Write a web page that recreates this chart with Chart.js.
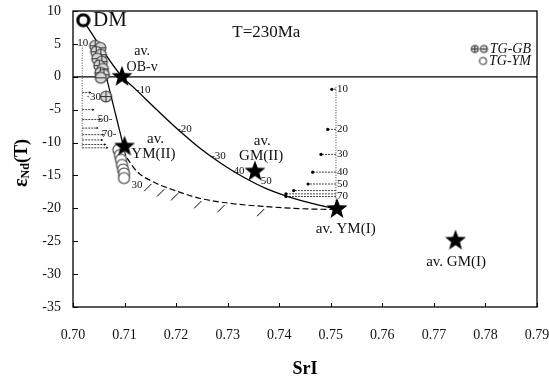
<!DOCTYPE html>
<html>
<head>
<meta charset="utf-8">
<script src="https://cdn.jsdelivr.net/npm/chart.js@4.4.0/dist/chart.umd.min.js"></script>
<style>
  html, body { margin: 0; padding: 0; background: #fff; }
</style>
</head>
<body>
<canvas id="chart" width="549" height="382"></canvas>
<script>
// Axis ticks
const xTicks = [0.70, 0.71, 0.72, 0.73, 0.74, 0.75, 0.76, 0.77, 0.78, 0.79];
const yTicks = [10, 5, 0, -5, -10, -15, -20, -25, -30, -35];

// Depleted mantle
const dmX = [0.7020];
const dmY = [8.6];

// TG-GB samples (crossed / barred circles)
const gbX = [0.7043, 0.7053, 0.7045, 0.7054, 0.7047, 0.7056, 0.7051, 0.7058, 0.7053, 0.7060, 0.7054, 0.7064];
const gbY = [4.7, 4.4, 3.8, 3.35, 2.75, 2.3, 1.7, 1.2, 0.6, 0.3, -0.15, -3.0];

// TG-YM samples (open circles)
const ymX = [0.7088, 0.7091, 0.7093, 0.7095, 0.7097, 0.7099, 0.7099];
const ymY = [-11.1, -11.9, -12.6, -13.4, -14.1, -14.7, -15.4];

// Average end members (stars)
const starNames = ['OB-v', 'YM(II)', 'GM(II)', 'YM(I)', 'GM(I)'];
const starX = [0.7095, 0.7100, 0.7353, 0.7512, 0.7742];
const starY = [0, -10.6, -14.4, -20.1, -24.9];

// Mixing curve DM -> av. YM(I)
const mixX = [0.7019, 0.7095, 0.7120, 0.7161, 0.7202, 0.7247, 0.7286, 0.7325, 0.7375, 0.7441, 0.7490, 0.7513];
const mixY = [8.6, 0, -1.8, -4.9, -7.9, -10.9, -13.1, -15.0, -17.0, -18.8, -19.75, -20.1];

// Mixing line TG-GB -> av. YM(II)
const gbLineX = [0.7054, 0.7098];
const gbLineY = [3.35, -10.6];

// Dashed curve av. YM(II) -> av. YM(I)
const dashX = [0.7097, 0.7107, 0.7124, 0.7159, 0.7198, 0.7247, 0.7311, 0.7377, 0.7441, 0.7513];
const dashY = [-11.1, -12.6, -14.4, -16.1, -17.3, -18.5, -19.3, -19.75, -20.05, -20.2];

// Hatch marks under the dashed curve
const hatchX = [0.7150, 0.7175, 0.7202, 0.7247, 0.7292, 0.7369];
const hatchY = [-15.9, -16.7, -17.3, -18.5, -19.1, -19.7];

// AFC arrows at av. YM(I)
const rightLineX = 0.7510;
const rightArrowY = [-1.9, -8.0, -11.8, -14.5, -16.3, -17.3, -17.8, -18.2];
const rightArrowHeadX = [0.7502, 0.7494, 0.7481, 0.7465, 0.7456, 0.7428, 0.7413, 0.7413];
const rightLabels = ['10', '20', '30', '40', '50', '70'];
const rightLabelY = [-1.9, -8.0, -11.8, -14.5, -16.3, -18.2];

// AFC arrows near TG-GB
const leftLineX = 0.7018;
const leftArrowY = [-2.4, -5.0, -6.5, -7.8, -8.8, -9.6, -10.3, -10.8];
const leftArrowHeadX = [0.7033, 0.7039, 0.7052, 0.7047, 0.7058, 0.7056, 0.7062, 0.7066];

const SERIF = '"Liberation Serif", "DejaVu Serif", serif';

function xy(xs, ys) {
  return xs.map((x, i) => ({ x: x, y: ys[i] }));
}

// segments with a gap between each one, head marked for a dot
function arrows(tailX, ys, headXs) {
  const d = [];
  ys.forEach((y, i) => {
    d.push({ x: tailX, y: y }, { x: headXs[i], y: y, head: true }, { x: headXs[i], y: null });
  });
  return d;
}

function hatches(xs, ys) {
  const d = [];
  xs.forEach((x, i) => {
    d.push({ x: x + 0.0002, y: ys[i] - 0.4 }, { x: x - 0.0012, y: ys[i] - 1.5 }, { x: x, y: null });
  });
  return d;
}

function makeStar(r) {
  const c = document.createElement('canvas');
  c.width = c.height = r * 2 + 2;
  const g = c.getContext('2d');
  g.translate(r + 1, r + 1);
  g.beginPath();
  for (let i = 0; i < 10; i++) {
    const rad = i % 2 === 0 ? r : r * 0.42;
    const a = -Math.PI / 2 + i * Math.PI / 5;
    g.lineTo(rad * Math.cos(a), rad * Math.sin(a));
  }
  g.closePath();
  g.fillStyle = '#000';
  g.fill();
  return c;
}

function makeCircle(r, kind) {
  const c = document.createElement('canvas');
  c.width = c.height = r * 2 + 4;
  const g = c.getContext('2d');
  const m = r + 2;
  g.beginPath();
  g.arc(m, m, r, 0, Math.PI * 2);
  if (kind === 'dm') {
    g.fillStyle = '#fff';
    g.fill();
    g.lineWidth = 3.2;
    g.strokeStyle = '#000';
    g.stroke();
    return c;
  }
  g.fillStyle = kind === 'open' ? '#fff' : '#d8d8d8';
  g.fill();
  g.lineWidth = 1.1;
  g.strokeStyle = '#333';
  g.stroke();
  g.beginPath();
  if (kind === 'cross' || kind === 'bar') {
    g.moveTo(m - r, m);
    g.lineTo(m + r, m);
  }
  if (kind === 'cross') {
    g.moveTo(m, m - r);
    g.lineTo(m, m + r);
  }
  g.lineWidth = 1;
  g.stroke();
  return c;
}

const starImg = makeStar(11);
const crossImg = makeCircle(5.5, 'cross');
const barImg = makeCircle(5.5, 'bar');
const openImg = makeCircle(5.5, 'open');
const dmImg = makeCircle(5.5, 'dm');
const crossSmall = makeCircle(3.5, 'cross');
const barSmall = makeCircle(3.5, 'bar');
const openSmall = makeCircle(3.5, 'open');

// text labels, placed in data units
const notes = [
  { t: 'DM', x: 0.7039, y: 8.6, size: 21, align: 'left' },
  { t: 'T=230Ma', x: 0.7375, y: 6.8, size: 17 },
  { t: 'av.', x: 0.7134, y: 3.8, size: 14 },
  { t: 'OB-v', x: 0.7134, y: 1.5, size: 14 },
  { t: 'av.', x: 0.7160, y: -9.5, size: 15 },
  { t: 'YM(II)', x: 0.7156, y: -11.8, size: 15 },
  { t: 'av.', x: 0.7367, y: -9.8, size: 15 },
  { t: 'GM(II)', x: 0.7365, y: -12.1, size: 15 },
  { t: 'av. YM(I)', x: 0.7529, y: -23.2, size: 15 },
  { t: 'av. GM(I)', x: 0.7743, y: -28.2, size: 15 },
  { t: '-10', x: 0.7122, y: -2.0, size: 11, align: 'left' },
  { t: '-20', x: 0.7202, y: -7.9, size: 11, align: 'left' },
  { t: '-30', x: 0.7268, y: -12.0, size: 11, align: 'left' },
  { t: '40', x: 0.7322, y: -14.4, size: 11 },
  { t: '50', x: 0.7375, y: -15.9, size: 11 },
  { t: '30', x: 0.7124, y: -16.4, size: 11 },
  { t: '10', x: 0.7019, y: 5.1, size: 11 },
  { t: '·30', x: 0.7040, y: -3.1, size: 11 },
  { t: '50-', x: 0.7062, y: -6.5, size: 11 },
  { t: '70-', x: 0.7070, y: -8.7, size: 11 }
];

const decor = {
  id: 'decor',
  beforeDatasetsDraw(chart) {
    const { ctx, chartArea: a, scales: { y } } = chart;
    ctx.save();
    ctx.strokeStyle = '#000';
    ctx.lineWidth = 1.2;
    const y0 = y.getPixelForValue(0);
    ctx.beginPath();
    ctx.moveTo(a.left, y0);
    ctx.lineTo(a.right, y0);
    ctx.stroke();
    ctx.restore();
  },
  afterDatasetsDraw(chart) {
    const { ctx, chartArea: a, scales: { x, y } } = chart;
    ctx.save();
    // frame + inner ticks
    ctx.strokeStyle = '#000';
    ctx.lineWidth = 1.3;
    ctx.strokeRect(a.left, a.top, a.right - a.left, a.bottom - a.top);
    ctx.lineWidth = 1;
    ctx.beginPath();
    xTicks.forEach(v => {
      const px = Math.round(x.getPixelForValue(v)) + 0.5;
      ctx.moveTo(px, a.bottom);
      ctx.lineTo(px, a.bottom - 4);
    });
    yTicks.forEach(v => {
      const py = Math.round(y.getPixelForValue(v)) + 0.5;
      ctx.moveTo(a.left, py);
      ctx.lineTo(a.left + 5, py);
    });
    ctx.stroke();

    // notes
    ctx.fillStyle = '#111';
    ctx.textBaseline = 'middle';
    notes.forEach(n => {
      ctx.font = n.size + 'px ' + SERIF;
      ctx.textAlign = n.align || 'center';
      ctx.fillText(n.t, x.getPixelForValue(n.x), y.getPixelForValue(n.y));
    });
    ctx.font = '11px ' + SERIF;
    ctx.textAlign = 'left';
    rightLabels.forEach((t, i) => {
      ctx.fillText(t, x.getPixelForValue(rightLineX) + 1, y.getPixelForValue(rightLabelY[i]));
    });

    // legend
    ctx.font = 'italic 14px ' + SERIF;
    ctx.textAlign = 'right';
    const lx = a.right - 6;
    const ly1 = a.top + 38, ly2 = a.top + 50;
    ctx.fillText('TG-GB', lx, ly1);
    ctx.fillText('TG-YM', lx, ly2);
    const s1 = lx - ctx.measureText('TG-GB').width;
    const s2 = lx - ctx.measureText('TG-YM').width;
    const hw = crossSmall.width / 2;
    ctx.drawImage(crossSmall, s1 - 15 - hw, ly1 - hw);
    ctx.drawImage(barSmall, s1 - 6 - hw, ly1 - hw);
    ctx.drawImage(openSmall, s2 - 6 - hw, ly2 - hw);

    // axis titles
    ctx.fillStyle = '#000';
    ctx.font = 'bold 18px ' + SERIF;
    ctx.textAlign = 'center';
    ctx.fillText('SrI', (a.left + a.right) / 2, 369);

    ctx.translate(22, 163);
    ctx.rotate(-Math.PI / 2);
    ctx.textAlign = 'left';
    ctx.font = 'bold 20px ' + SERIF;
    const w1 = ctx.measureText('ε').width;
    ctx.font = 'bold 12px ' + SERIF;
    const w2 = ctx.measureText('Nd').width;
    ctx.font = 'bold 18px ' + SERIF;
    const w3 = ctx.measureText('(T)').width;
    let sx = -(w1 + w2 + w3) / 2;
    ctx.font = 'bold 20px ' + SERIF;
    ctx.fillText('ε', sx, 0);
    sx += w1;
    ctx.font = 'bold 12px ' + SERIF;
    ctx.fillText('Nd', sx, 4);
    sx += w2;
    ctx.font = 'bold 18px ' + SERIF;
    ctx.fillText('(T)', sx, 0);
    ctx.restore();
  }
};

new Chart(document.getElementById('chart'), {
  type: 'scatter',
  data: {
    datasets: [
      { label: 'DM', data: xy(dmX, dmY), pointStyle: dmImg, order: 0 },
      { label: 'av.', data: xy(starX, starY), pointStyle: starImg, order: 1 },
      { label: 'TG-YM', data: xy(ymX, ymY), pointStyle: openImg, order: 2 },
      { label: 'TG-GB', data: xy(gbX, gbY),
        pointStyle: gbX.map((v, i) => (i % 3 === 1 ? barImg : crossImg)), order: 3 },
      { label: 'mix', data: xy(mixX, mixY), showLine: true, pointRadius: 0,
        borderColor: '#000', borderWidth: 1.3, cubicInterpolationMode: 'monotone', order: 10 },
      { label: 'gbline', data: xy(gbLineX, gbLineY), showLine: true, pointRadius: 0,
        borderColor: '#000', borderWidth: 1.2, order: 10 },
      { label: 'dashed', data: xy(dashX, dashY), showLine: true, pointRadius: 0,
        borderColor: '#000', borderWidth: 1.2, borderDash: [6, 3],
        cubicInterpolationMode: 'monotone', order: 10 },
      { label: 'hatch', data: hatches(hatchX, hatchY), showLine: true, pointRadius: 0,
        borderColor: '#000', borderWidth: 1, spanGaps: false, order: 10 },
      { label: 'rightLine', data: [{ x: rightLineX, y: -1.6 }, { x: rightLineX, y: -19.6 }],
        showLine: true, pointRadius: 0, borderColor: '#666', borderWidth: 1.3,
        borderDash: [1, 1.5], order: 11 },
      { label: 'rightArrows', data: arrows(rightLineX, rightArrowY, rightArrowHeadX),
        showLine: true, spanGaps: false, borderColor: '#444', borderWidth: 1,
        borderDash: [2, 1], pointRadius: c => (c.raw && c.raw.head ? 1.6 : 0),
        pointBackgroundColor: '#000', pointBorderWidth: 0, order: 11 },
      { label: 'leftLine', data: [{ x: leftLineX, y: 4.8 }, { x: leftLineX, y: -10.9 }],
        showLine: true, pointRadius: 0, borderColor: '#666', borderWidth: 1.2,
        borderDash: [1, 1.5], order: 11 },
      { label: 'leftArrows', data: arrows(leftLineX, leftArrowY, leftArrowHeadX),
        showLine: true, spanGaps: false, borderColor: '#444', borderWidth: 1,
        borderDash: [2, 1], pointRadius: c => (c.raw && c.raw.head ? 1.4 : 0),
        pointStyle: 'triangle', rotation: 90,
        pointBackgroundColor: '#000', pointBorderWidth: 0, order: 11 }
    ]
  },
  options: {
    responsive: false,
    animation: false,
    devicePixelRatio: 1,
    layout: { padding: { top: 11, right: 12, left: 0, bottom: 0 } },
    plugins: { legend: { display: false }, tooltip: { enabled: false } },
    scales: {
      x: {
        type: 'linear', min: 0.70, max: 0.79,
        afterFit: s => { s.height = 75; s.paddingLeft = 0; s.paddingRight = 0; },
        afterBuildTicks: s => { s.ticks = xTicks.map(v => ({ value: v })); },
        grid: { display: false, drawTicks: false },
        border: { display: false },
        ticks: { padding: 20, color: '#111', font: { family: SERIF, size: 14 },
          callback: v => v.toFixed(2), maxRotation: 0, autoSkip: false }
      },
      y: {
        type: 'linear', min: -35, max: 10,
        afterFit: s => { s.width = 73; s.paddingTop = 0; s.paddingBottom = 0; },
        afterBuildTicks: s => { s.ticks = yTicks.map(v => ({ value: v })); },
        grid: { display: false, drawTicks: false },
        border: { display: false },
        ticks: { padding: 12, color: '#111', font: { family: SERIF, size: 14 }, autoSkip: false }
      }
    }
  },
  plugins: [decor]
});
</script>
</body>
</html>
